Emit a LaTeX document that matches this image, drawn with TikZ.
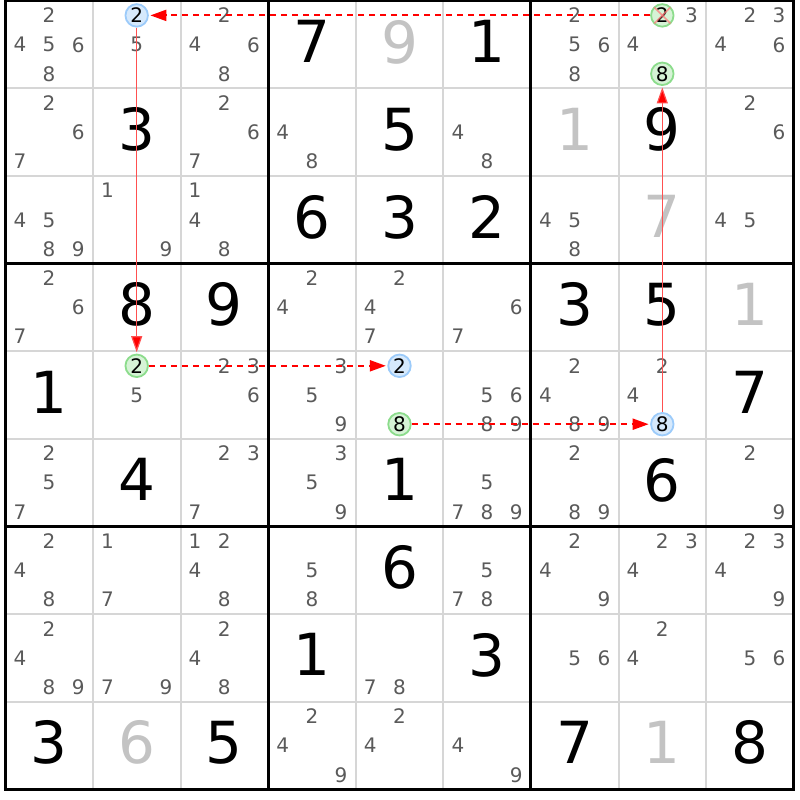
\documentclass[tikz,border=0pt]{standalone}
\usepackage{fontspec}
\setmainfont{DejaVu Sans}
\usetikzlibrary{arrows.meta}
\definecolor{candc}{HTML}{5A5A5A}
\definecolor{givg}{HTML}{C3C3C3}
\definecolor{thinc}{HTML}{D6D6D6}
\definecolor{bfill}{HTML}{D6E9FC}
\definecolor{bline}{HTML}{9CCBFA}
\definecolor{gfill}{HTML}{D6F3D6}
\definecolor{gline}{HTML}{8CDC8C}
\definecolor{lred}{HTML}{FF5050}
\definecolor{xred}{HTML}{FF7A7A}
\definecolor{dred}{HTML}{FF0000}
\tikzset{
  cand/.style={font=\fontsize{20}{20}\selectfont, text=candc, inner sep=0pt, text depth=0pt},
  big/.style={font=\fontsize{58}{58}\selectfont, inner sep=0pt, text depth=0pt},
  bc/.style={circle, draw=bline, fill=bfill, line width=1.8pt, minimum size=22.5pt, inner sep=0pt,
    font=\fontsize{20}{20}\selectfont, text=black, text depth=0pt},
  gc/.style={circle, draw=gline, fill=gfill, line width=1.8pt, minimum size=22.5pt, inner sep=0pt,
    font=\fontsize{20}{20}\selectfont, text=black, text depth=0pt},
  xline/.style={draw=xred, line width=1.6pt, opacity=0.75, shorten <=0.8pt, shorten >=0.8pt},
  thinline/.style={thinc, line width=2pt},
  thickline/.style={black, line width=3pt},
  dashlink/.style={draw=dred, line width=2pt, dash pattern=on 6pt off 5pt, -{Triangle[length=16pt,width=11pt,fill=dred]}, shorten >=1.5pt},
  solidlink/.style={draw=lred, line width=1.2pt, -{Triangle[length=16pt,width=11pt,fill=dred]}, shorten >=1.5pt},
}
\newcommand\setpos[3]{\pgfmathsetmacro\px{5.3+(#2-1)*87.6+(mod(#3-1,3)+0.5)*29.2}\pgfmathsetmacro\py{0.8+(#1-1)*87.6+(floor((#3-1)/3)+0.5)*29.2}}
\newcommand\cands[3]{\foreach \d in {#3}{\setpos{#1}{#2}{\d}\node[cand] (k#1#2\d) at (\px,\py) {\d};}}
\newcommand\giv[4]{\pgfmathsetmacro\px{5.3+(#2-0.5)*87.6}\pgfmathsetmacro\py{0.8+(#1-0.5)*87.6-3}\node[big, text=#4] (g#1#2) at (\px,\py) {#3};}
\begin{document}
\begin{tikzpicture}[x=1pt,y=-1pt]
\useasboundingbox (0,0) rectangle (800,800);
\fill[white] (0,0) rectangle (800,800);
% thin grid lines
\foreach \i in {1,2,4,5,7,8}{
  \draw[thinline] ({5.3+\i*87.6},0.8) -- ({5.3+\i*87.6},789.2);
  \draw[thinline] (5.3,{0.8+\i*87.6}) -- (793.7,{0.8+\i*87.6});
}
% thick grid lines
\foreach \i in {0,3,6,9}{
  \draw[thickline] ({5.3+\i*87.6},-0.7) -- ({5.3+\i*87.6},790.7);
  \draw[thickline] (3.8,{0.8+\i*87.6}) -- (795.2,{0.8+\i*87.6});
}
% given / solved digits
\giv{1}{4}{7}{black}\giv{1}{5}{9}{givg}\giv{1}{6}{1}{black}
\giv{2}{2}{3}{black}\giv{2}{5}{5}{black}\giv{2}{7}{1}{givg}\giv{2}{8}{9}{black}
\giv{3}{4}{6}{black}\giv{3}{5}{3}{black}\giv{3}{6}{2}{black}\giv{3}{8}{7}{givg}
\giv{4}{2}{8}{black}\giv{4}{3}{9}{black}\giv{4}{7}{3}{black}\giv{4}{8}{5}{black}\giv{4}{9}{1}{givg}
\giv{5}{1}{1}{black}\giv{5}{9}{7}{black}
\giv{6}{2}{4}{black}\giv{6}{5}{1}{black}\giv{6}{8}{6}{black}
\giv{7}{5}{6}{black}
\giv{8}{4}{1}{black}\giv{8}{6}{3}{black}
\giv{9}{1}{3}{black}\giv{9}{2}{6}{givg}\giv{9}{3}{5}{black}\giv{9}{7}{7}{black}\giv{9}{8}{1}{givg}\giv{9}{9}{8}{black}
% candidates
\cands{1}{1}{2,4,5,6,8}\cands{1}{2}{5}\cands{1}{3}{2,4,6,8}\cands{1}{7}{2,5,6,8}\cands{1}{8}{3,4}\cands{1}{9}{2,3,4,6}
\cands{2}{1}{2,6,7}\cands{2}{3}{2,6,7}\cands{2}{4}{4,8}\cands{2}{6}{4,8}\cands{2}{9}{2,6}
\cands{3}{1}{4,5,8,9}\cands{3}{2}{1,9}\cands{3}{3}{1,4,8}\cands{3}{7}{4,5,8}\cands{3}{9}{4,5}
\cands{4}{1}{2,6,7}\cands{4}{4}{2,4}\cands{4}{5}{2,4,7}\cands{4}{6}{6,7}
\cands{5}{2}{5}\cands{5}{3}{2,3,6}\cands{5}{4}{3,5,9}\cands{5}{6}{5,6,8,9}\cands{5}{7}{2,4,8,9}\cands{5}{8}{2,4}
\cands{6}{1}{2,5,7}\cands{6}{3}{2,3,7}\cands{6}{4}{3,5,9}\cands{6}{6}{5,7,8,9}\cands{6}{7}{2,8,9}\cands{6}{9}{2,9}
\cands{7}{1}{2,4,8}\cands{7}{2}{1,7}\cands{7}{3}{1,2,4,8}\cands{7}{4}{5,8}\cands{7}{6}{5,7,8}\cands{7}{7}{2,4,9}\cands{7}{8}{2,3,4}\cands{7}{9}{2,3,4,9}
\cands{8}{1}{2,4,8,9}\cands{8}{2}{7,9}\cands{8}{3}{2,4,8}\cands{8}{5}{7,8}\cands{8}{7}{5,6}\cands{8}{8}{2,4}\cands{8}{9}{5,6}
\cands{9}{4}{2,4,9}\cands{9}{5}{2,4}\cands{9}{6}{4,9}
% highlighted candidates
\setpos{1}{2}{2}\node[bc] (b1) at (\px,\py) {2};
\setpos{1}{8}{2}\node[gc] (e1) at (\px,\py) {2};
\setpos{1}{8}{8}\node[gc] (e4) at (\px,\py) {8};
\setpos{5}{2}{2}\node[gc] (e2) at (\px,\py) {2};
\setpos{5}{5}{2}\node[bc] (b2) at (\px,\py) {2};
\setpos{5}{5}{8}\node[gc] (e3) at (\px,\py) {8};
\setpos{5}{8}{8}\node[bc] (b3) at (\px,\py) {8};
% eliminated candidate
\draw[xline] (e1.north west) -- (e1.south east);
\draw[xline] (e1.north east) -- (e1.south west);
% chain links
\draw[dashlink] (e1) -- (b1);
\draw[solidlink] (b1) -- (e2);
\draw[dashlink] (e2) -- (b2);
\draw[dashlink] (e3) -- (b3);
\draw[solidlink] (b3) -- (e4);
\end{tikzpicture}
\end{document}
